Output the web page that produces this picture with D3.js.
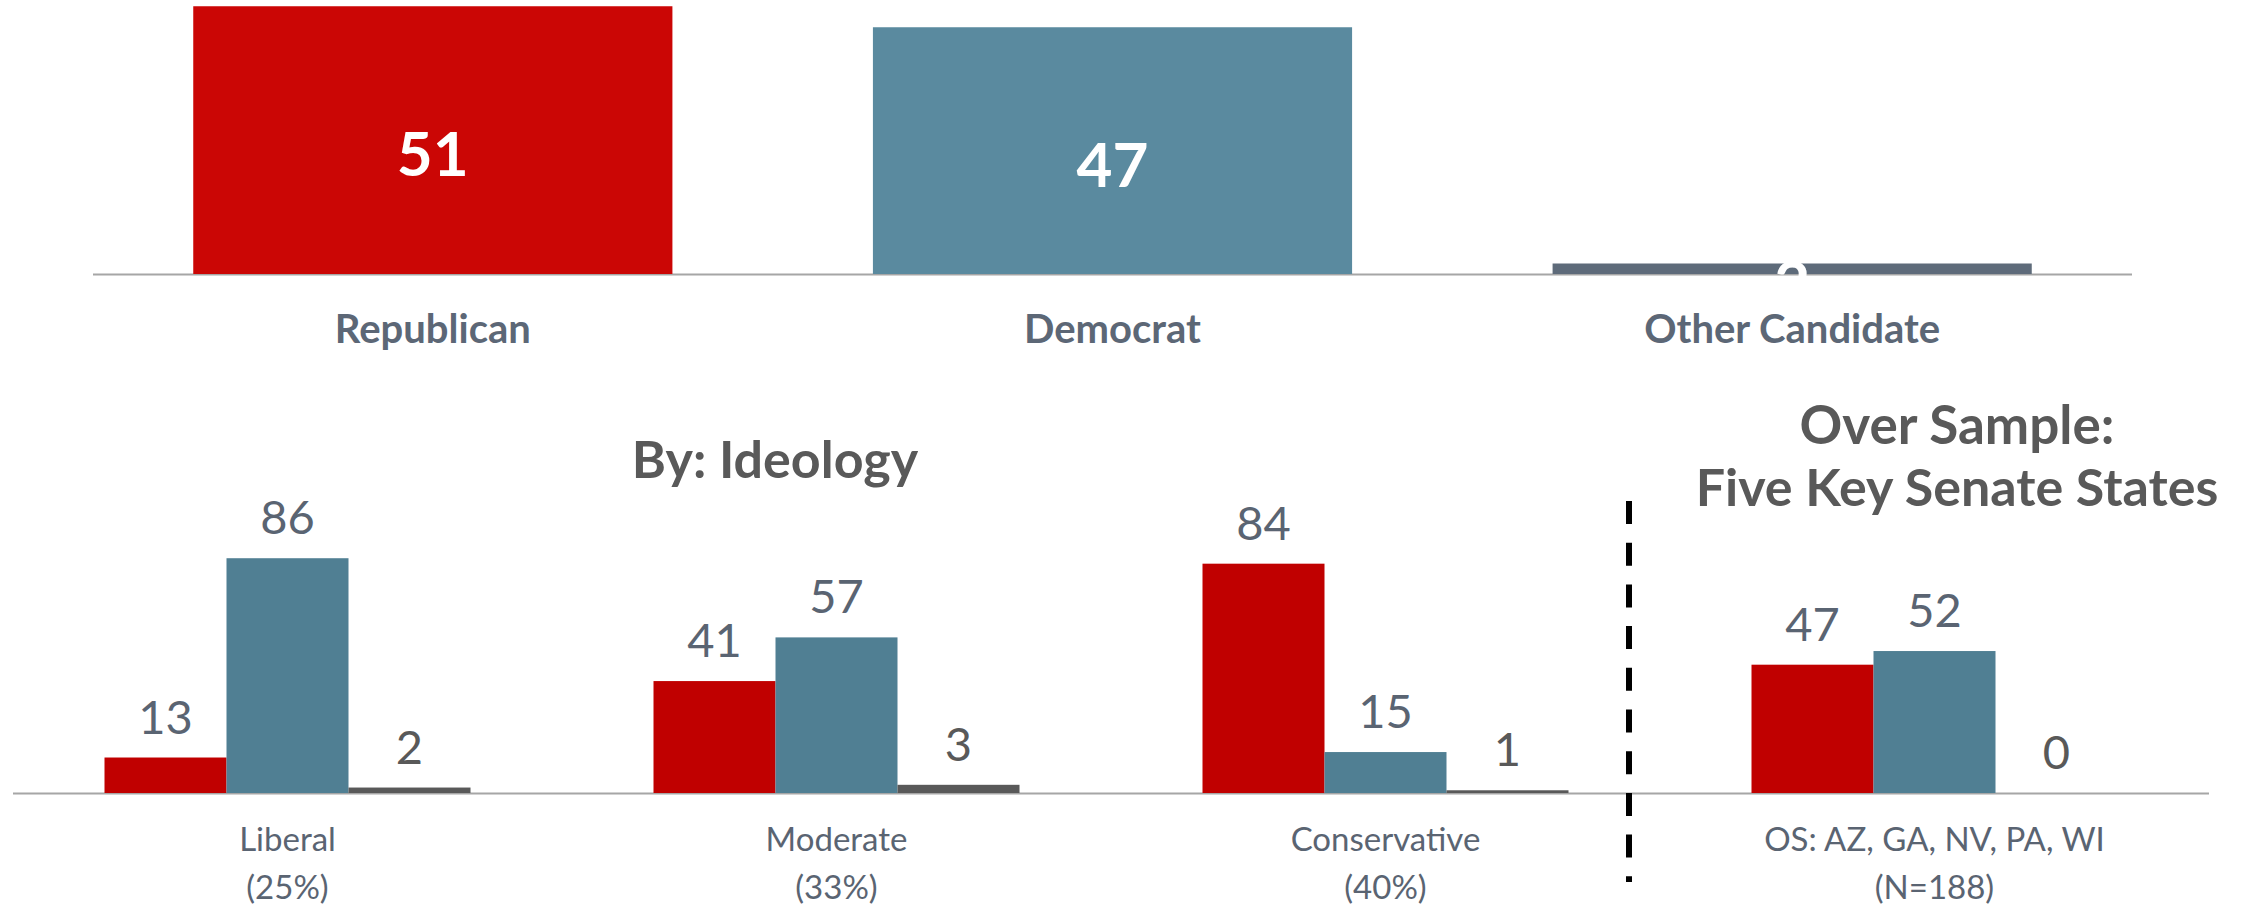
<!DOCTYPE html>
<html>
<head>
<meta charset="utf-8">
<script src="https://cdn.jsdelivr.net/npm/d3@7"></script>
<style>
  html, body { margin: 0; padding: 0; background: #fff; }
  svg { display: block; font-family: Lato, "Open Sans", sans-serif; }
</style>
</head>
<body>
<div class="chart"></div>
<script>
// top: overall vote
var topCats = ["Republican", "Democrat", "Other Candidate"];
var topVals = [51, 47, 2];

// bottom: by ideology + over sample
var groups = ["Liberal", "Moderate", "Conservative", "OS"];
var groupLine1 = ["Liberal", "Moderate", "Conservative", "OS: AZ, GA, NV, PA, WI"];
var groupLine2 = ["(25%)", "(33%)", "(40%)", "(N=188)"];
var series = ["Republican", "Democrat", "Other"];
var repVals = [13, 41, 84, 47];
var demVals = [86, 57, 15, 52];
var othVals = [2, 3, 1, 0];

var width = 2244, height = 908;
var svg = d3.select(".chart").append("svg")
  .attr("width", width)
  .attr("height", height);

/* top chart */
var topColors = ["#cb0605", "#5a8a9f", "#5e6b7a"];
var xTop = d3.scaleBand()
  .domain(topCats)
  .range([93, 2132])
  .paddingInner(0.295)
  .paddingOuter(0.1475);
var yTop = d3.scaleLinear().domain([0, 100]).range([274, 274 - 525]);

svg.append("line")
  .attr("x1", 93).attr("x2", 2132)
  .attr("y1", 274.5).attr("y2", 274.5)
  .attr("stroke", "#a6a6a6").attr("stroke-width", 2);

svg.append("g").selectAll("rect")
  .data(topVals)
  .enter().append("rect")
  .attr("x", function(d, i) { return xTop(topCats[i]); })
  .attr("y", function(d) { return yTop(d); })
  .attr("width", xTop.bandwidth())
  .attr("height", function(d) { return yTop(0) - yTop(d); })
  .attr("fill", function(d, i) { return topColors[i]; });

svg.append("g").selectAll("text")
  .data(topVals)
  .enter().append("text")
  .attr("x", function(d, i) { return xTop(topCats[i]) + xTop.bandwidth() / 2; })
  .attr("y", function(d) { return (yTop(d) + yTop(0)) / 2 + 36; })
  .attr("text-anchor", "middle")
  .attr("fill", "#fff")
  .attr("font-weight", "bold")
  .attr("font-size", 62)
  .text(function(d) { return d; });

svg.append("g").selectAll("text")
  .data(topCats)
  .enter().append("text")
  .attr("x", function(d) { return xTop(d) + xTop.bandwidth() / 2; })
  .attr("y", 343)
  .attr("text-anchor", "middle")
  .attr("fill", "#5c6776")
  .attr("font-weight", "bold")
  .attr("font-size", 40)
  .text(function(d) { return d; });

/* bottom chart */
var botColors = ["#c00000", "#507f93", "#595959"];
var x0 = d3.scaleBand()
  .domain(groups)
  .range([13, 2209])
  .paddingInner(1 / 3)
  .paddingOuter(1 / 6);
var x1 = d3.scaleBand()
  .domain(series)
  .range([0, x0.bandwidth()]);
var yBot = d3.scaleLinear().domain([0, 100]).range([793, 793 - 273]);

svg.append("line")
  .attr("x1", 13).attr("x2", 2209)
  .attr("y1", 793.5).attr("y2", 793.5)
  .attr("stroke", "#a6a6a6").attr("stroke-width", 2);

var rows = groups.map(function(g, i) {
  return [repVals[i], demVals[i], othVals[i]];
});

var grp = svg.append("g").selectAll("g")
  .data(rows)
  .enter().append("g")
  .attr("transform", function(d, i) { return "translate(" + x0(groups[i]) + ",0)"; });

grp.selectAll("rect")
  .data(function(d) { return d; })
  .enter().append("rect")
  .attr("x", function(d, j) { return x1(series[j]); })
  .attr("y", function(d) { return yBot(d); })
  .attr("width", x1.bandwidth())
  .attr("height", function(d) { return yBot(0) - yBot(d); })
  .attr("fill", function(d, j) { return botColors[j]; });

grp.selectAll("text")
  .data(function(d) { return d; })
  .enter().append("text")
  .attr("x", function(d, j) { return x1(series[j]) + x1.bandwidth() / 2; })
  .attr("y", function(d) { return yBot(d) - 24; })
  .attr("text-anchor", "middle")
  .attr("fill", function(d, j) { return j == 2 ? "#595959" : "#5a6472"; })
  .attr("font-size", 47)
  .text(function(d) { return d; });

var cat = svg.append("g").selectAll("text")
  .data(groups)
  .enter().append("text")
  .attr("x", function(d) { return x0(d) + x0.bandwidth() / 2; })
  .attr("text-anchor", "middle")
  .attr("fill", "#5a6472")
  .attr("font-size", 33);
cat.append("tspan")
  .attr("x", function(d) { return x0(d) + x0.bandwidth() / 2; })
  .attr("y", 851)
  .text(function(d, i) { return groupLine1[i]; });
cat.append("tspan")
  .attr("x", function(d) { return x0(d) + x0.bandwidth() / 2; })
  .attr("y", 899)
  .text(function(d, i) { return groupLine2[i]; });

// divider
svg.append("line")
  .attr("x1", 1629).attr("x2", 1629)
  .attr("y1", 501).attr("y2", 882)
  .attr("stroke", "#000")
  .attr("stroke-width", 6)
  .attr("stroke-dasharray", "23,18.7");

// titles
svg.append("text")
  .attr("x", 775).attr("y", 478)
  .attr("text-anchor", "middle")
  .attr("fill", "#595959")
  .attr("font-weight", "bold")
  .attr("font-size", 52)
  .text("By: Ideology");

svg.append("text")
  .attr("x", 1957).attr("y", 444)
  .attr("text-anchor", "middle")
  .attr("fill", "#595959")
  .attr("font-weight", "bold")
  .attr("font-size", 53)
  .text("Over Sample:");

svg.append("text")
  .attr("x", 1957).attr("y", 506)
  .attr("text-anchor", "middle")
  .attr("fill", "#595959")
  .attr("font-weight", "bold")
  .attr("font-size", 52)
  .text("Five Key Senate States");
</script>
</body>
</html>
